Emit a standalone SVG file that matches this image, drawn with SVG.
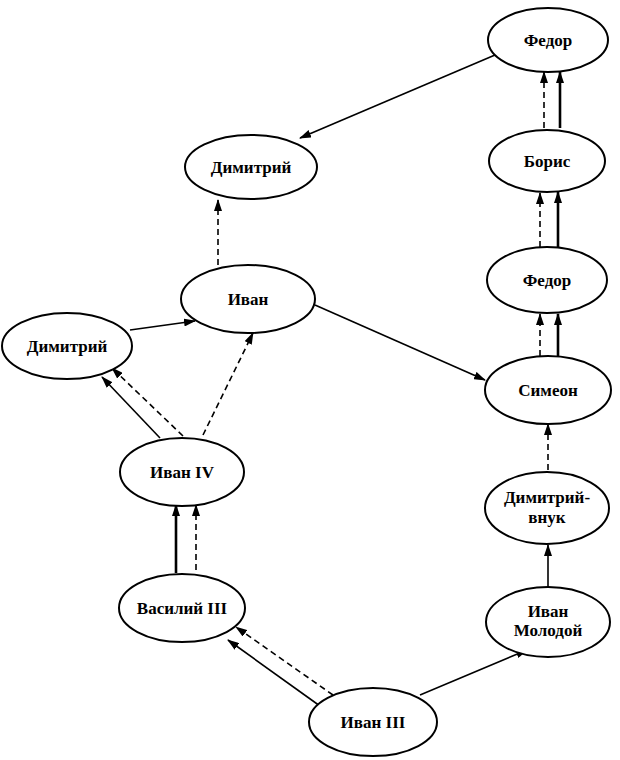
<svg xmlns="http://www.w3.org/2000/svg" width="620" height="760" viewBox="0 0 620 760">
<defs>
<marker id="a" markerWidth="12" markerHeight="8" refX="11" refY="4" orient="auto" markerUnits="userSpaceOnUse"><path d="M0,0 L12,4 L0,8 Z" fill="#000"/></marker>
</defs>
<style>
ellipse{fill:#fff;stroke:#000;stroke-width:2}
text{font-family:"Liberation Serif",serif;font-size:17px;font-weight:bold;text-anchor:middle}
.s{stroke:#000;stroke-width:1.6;fill:none;marker-end:url(#a)}
.t{stroke:#000;stroke-width:2.6;fill:none;marker-end:url(#a)}
.d{stroke:#000;stroke-width:1.6;fill:none;stroke-dasharray:6,4;marker-end:url(#a)}
</style>
<rect width="620" height="760" fill="#fff"/>
<g id="connectors">
<line class="s" x1="495" y1="55" x2="300" y2="138"/>
<line class="d" x1="218" y1="265" x2="218" y2="200"/>
<line class="s" x1="130" y1="330" x2="195" y2="321"/>
<line class="d" x1="203" y1="435" x2="253" y2="333"/>
<line class="s" x1="160" y1="438" x2="102" y2="377"/>
<line class="d" x1="183" y1="436" x2="112" y2="368"/>
<line class="s" x1="315" y1="305" x2="485" y2="380"/>
<line class="t" x1="176" y1="573" x2="176" y2="505"/>
<line class="d" x1="196" y1="570" x2="196" y2="505"/>
<line class="s" x1="320" y1="706" x2="228" y2="640"/>
<line class="d" x1="333" y1="695" x2="236" y2="627"/>
<line class="s" x1="420" y1="695" x2="527" y2="650"/>
<line class="s" x1="548" y1="588" x2="548" y2="545"/>
<line class="d" x1="548" y1="470" x2="548" y2="424"/>
<line class="d" x1="540" y1="356" x2="540" y2="314"/>
<line class="t" x1="558" y1="356" x2="558" y2="314"/>
<line class="d" x1="540" y1="247" x2="540" y2="193"/>
<line class="t" x1="558" y1="247" x2="558" y2="192"/>
<line class="d" x1="544" y1="128" x2="544" y2="72"/>
<line class="t" x1="560" y1="128" x2="560" y2="72"/>
</g>
<g id="fedor1"><ellipse cx="548" cy="40" rx="60" ry="32"/><text x="548" y="46">Федор</text></g>
<g id="dimitriy1"><ellipse cx="251" cy="167" rx="66" ry="32"/><text x="251" y="173">Димитрий</text></g>
<g id="boris"><ellipse cx="547" cy="161" rx="58" ry="31"/><text x="547" y="167">Борис</text></g>
<g id="fedor2"><ellipse cx="547" cy="280" rx="60" ry="33"/><text x="547" y="286">Федор</text></g>
<g id="ivan"><ellipse cx="248" cy="299" rx="67" ry="34"/><text x="248" y="305">Иван</text></g>
<g id="dimitriy2"><ellipse cx="67" cy="346" rx="65" ry="33"/><text x="67" y="352">Димитрий</text></g>
<g id="simeon"><ellipse cx="548" cy="390" rx="63" ry="34"/><text x="548" y="396">Симеон</text></g>
<g id="ivan4"><ellipse cx="182" cy="472" rx="62" ry="34"/><text x="182" y="478">Иван IV</text></g>
<g id="dimvnuk"><ellipse cx="547" cy="508" rx="62" ry="36"/><text x="547" y="503">Димитрий-</text><text x="547" y="523">внук</text></g>
<g id="vasiliy3"><ellipse cx="182" cy="608" rx="63" ry="34"/><text x="182" y="614">Василий III</text></g>
<g id="ivanmol"><ellipse cx="548" cy="622" rx="62" ry="35"/><text x="548" y="617">Иван</text><text x="548" y="636">Молодой</text></g>
<g id="ivan3"><ellipse cx="373" cy="722" rx="64" ry="34"/><text x="373" y="728">Иван III</text></g>
</svg>
